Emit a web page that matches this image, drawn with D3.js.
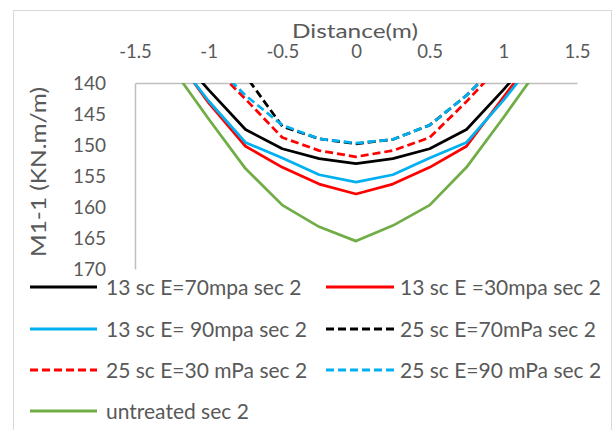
<!DOCTYPE html>
<html><head><meta charset="utf-8">
<script src="https://cdn.jsdelivr.net/npm/d3@7"></script>
<style>body{margin:0;background:#fff;} svg{display:block;}</style>
</head><body>
<script>
// Data
const distance = [-1.25, -1, -0.75, -0.5, -0.25, 0, 0.25, 0.5, 0.75, 1, 1.25];
const sc13E70 = [134.4, 141.1, 147.5, 150.6, 152.2, 153.0, 152.2, 150.6, 147.5, 141.1, 134.4];
const sc13E30 = [135.0, 143.2, 150.2, 153.6, 156.3, 157.9, 156.3, 153.6, 150.2, 142.3, 134.5];
const sc13E90 = [135.3, 142.9, 149.6, 152.1, 154.8, 156.0, 154.8, 152.1, 149.6, 142.8, 135.3];
const sc25E70 = [125.0, 130.6, 138.8, 147.0, 149.0, 149.8, 149.1, 146.8, 142.0, 136.1, 130.0];
const sc25E30 = [130.4, 136.6, 142.6, 148.8, 150.9, 151.9, 150.9, 148.8, 143.0, 136.6, 130.4];
const sc25E90 = [130.0, 136.1, 142.0, 146.8, 149.0, 149.7, 149.1, 146.8, 142.0, 136.1, 130.0];
const untreated = [137.5, 145.8, 153.8, 159.7, 163.2, 165.5, 163.0, 159.7, 153.6, 145.6, 137.3];
const xTicks = [-1.5, -1, -0.5, 0, 0.5, 1, 1.5];
const yTicks = [140, 145, 150, 155, 160, 165, 170];
const seriesNames = ["13 sc E=70mpa sec 2", "13 sc E =30mpa sec 2", "13 sc E= 90mpa sec 2",
  "25 sc E=70mPa sec 2", "25 sc E=30 mPa sec 2", "25 sc E=90 mPa sec 2", "untreated sec 2"];
const seriesValues = [sc13E70, sc13E30, sc13E90, sc25E70, sc25E30, sc25E90, untreated];
const seriesColors = ["#000000", "#ff0000", "#00b0f0", "#000000", "#ff0000", "#00b0f0", "#70ad47"];
const seriesDashed = [false, false, false, true, true, true, false];

const W = 614, H = 430;
const svg = d3.select("body").append("svg").attr("width", W).attr("height", H);
const font = "Lato, 'Open Sans', sans-serif";
const textColor = "#595959";

svg.append("rect").attr("x", 13.5).attr("y", 10.5).attr("width", 598).attr("height", 430)
  .attr("fill", "#fff").attr("stroke", "#d9d9d9").attr("stroke-width", 1);

const plot = {left: 135, right: 577, top: 83, bottom: 269};
const x = d3.scaleLinear().domain([-1.5, 1.5]).range([plot.left, plot.right]);
const y = d3.scaleLinear().domain([140, 170]).range([plot.top, plot.bottom]);

// axes
const xAxis = d3.axisTop(x).tickValues(xTicks).tickSize(0).tickFormat(d => String(d));
const gx = svg.append("g").attr("transform", `translate(0,${plot.top})`).call(xAxis);
gx.select(".domain").attr("stroke", "#bfbfbf").attr("stroke-width", 1.5);
gx.selectAll("text").attr("font-family", font).attr("font-size", 18.5).attr("fill", textColor)
  .attr("dy", 0).attr("y", -25);

const yAxis = d3.axisLeft(y).tickValues(yTicks).tickSize(0);
const gy = svg.append("g").attr("transform", `translate(${plot.left},0)`).call(yAxis);
gy.select(".domain").attr("stroke", "#bfbfbf").attr("stroke-width", 1.5);
gy.selectAll("text").attr("font-family", font).attr("font-size", 19).attr("fill", textColor)
  .attr("x", -29).attr("dy", "0.36em");

svg.append("text").attr("x", 355).attr("y", 37.5).attr("text-anchor", "middle")
  .attr("font-family", font).attr("font-size", 19.5).attr("fill", textColor)
  .attr("textLength", 126).attr("lengthAdjust", "spacingAndGlyphs").text("Distance(m)");
svg.append("text").attr("transform", "translate(46,172) rotate(-90)").attr("text-anchor", "middle")
  .attr("font-family", font).attr("font-size", 21).attr("fill", textColor)
  .attr("textLength", 170).attr("lengthAdjust", "spacingAndGlyphs").text("M1-1 (KN.m/m)");

// clip
svg.append("clipPath").attr("id", "clip").append("rect")
  .attr("x", plot.left).attr("y", plot.top).attr("width", plot.right - plot.left).attr("height", plot.bottom - plot.top);

const line = d3.line().x((d, i) => x(distance[i])).y(d => y(d));
const gl = svg.append("g").attr("clip-path", "url(#clip)");
seriesValues.forEach((vals, i) => {
  gl.append("path").attr("d", line(vals)).attr("fill", "none")
    .attr("stroke", seriesColors[i]).attr("stroke-width", 2.75)
    .attr("stroke-linejoin", "round")
    .attr("stroke-dasharray", seriesDashed[i] ? "8,4" : null);
});

// legend
const legLine = [[30, 97], [326, 394]], legText = [106, 400], legRows = [287, 329, 370, 411];
seriesNames.forEach((name, i) => {
  const c = i % 2, cy = legRows[Math.floor(i / 2)];
  const g = svg.append("g");
  g.append("line").attr("x1", legLine[c][0]).attr("x2", legLine[c][1]).attr("y1", cy).attr("y2", cy)
    .attr("stroke", seriesColors[i]).attr("stroke-width", 3)
    .attr("stroke-dasharray", seriesDashed[i] ? "8,4" : null);
  g.append("text").attr("x", legText[c]).attr("y", cy).attr("dy", "0.36em")
    .attr("font-family", font).attr("font-size", 21).attr("fill", textColor).text(name);
});
</script>
</body></html>
